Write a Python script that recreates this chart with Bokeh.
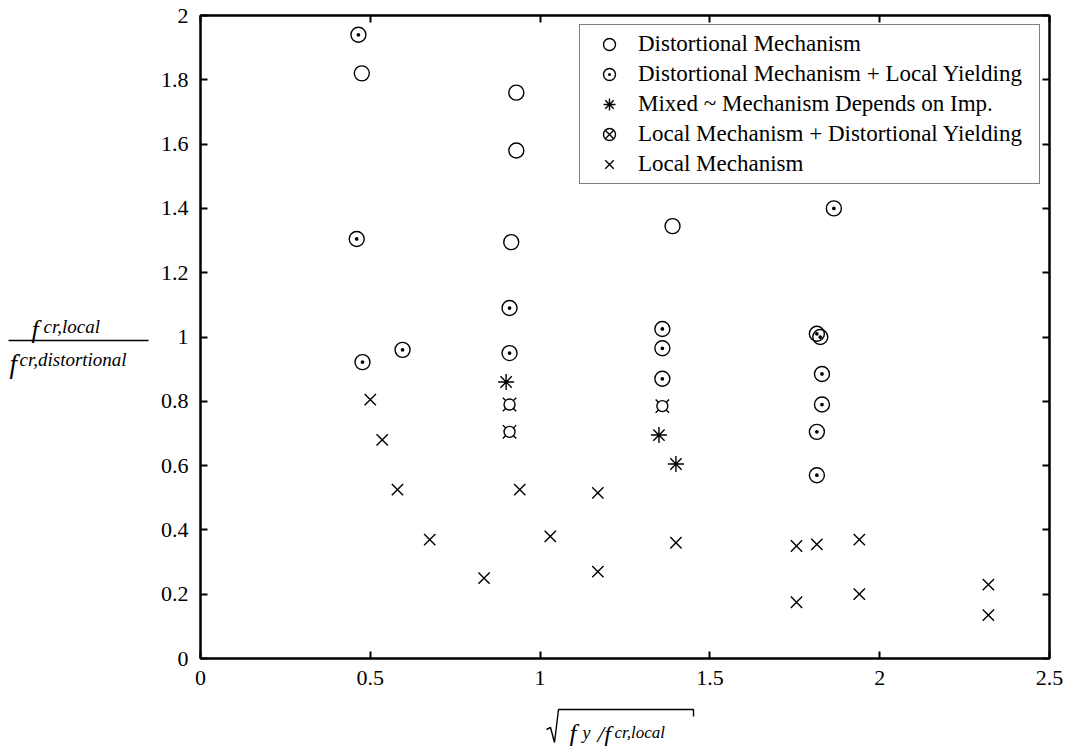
from bokeh.plotting import figure
from bokeh.models import FixedTicker, LinearAxis, Range1d, Legend
from bokeh.core.properties import value
from bokeh.layouts import row, column
from bokeh.embed import file_html
from bokeh.resources import INLINE

# ---------------- data ----------------
dist_x = [0.475, 0.93, 0.93, 0.915, 1.39]
dist_y = [1.82, 1.76, 1.58, 1.295, 1.345]

dly_x = [0.465, 0.46, 0.477, 0.595, 0.91, 0.91, 1.36, 1.36, 1.36, 1.865, 1.815, 1.825, 1.83, 1.83, 1.815, 1.815]
dly_y = [1.94, 1.305, 0.922, 0.96, 1.09, 0.95, 1.025, 0.965, 0.87, 1.40, 1.01, 1.0, 0.885, 0.79, 0.705, 0.57]

mixed_x = [0.90, 1.35, 1.40]
mixed_y = [0.86, 0.695, 0.605]

ldy_x = [0.91, 0.91, 1.36]
ldy_y = [0.79, 0.705, 0.785]

loc_x = [0.50, 0.535, 0.58, 0.675, 0.835, 0.94, 1.03, 1.17, 1.17, 1.40,
         1.755, 1.755, 1.815, 1.94, 1.94, 2.32, 2.32]
loc_y = [0.805, 0.68, 0.525, 0.37, 0.25, 0.525, 0.38, 0.515, 0.27, 0.36,
         0.35, 0.175, 0.355, 0.37, 0.20, 0.23, 0.135]

series_names = ["Distortional Mechanism",
                "Distortional Mechanism + Local Yielding",
                "Mixed ~ Mechanism Depends on Imp.",
                "Local Mechanism + Distortional Yielding",
                "Local Mechanism"]

x_ticks = [0, 0.5, 1, 1.5, 2, 2.5]
x_tick_labels = ["0", "0.5", "1", "1.5", "2", "2.5"]
y_ticks = [0, 0.2, 0.4, 0.6, 0.8, 1.0, 1.2, 1.4, 1.6, 1.8, 2.0]
y_tick_labels = ["0", "0.2", "0.4", "0.6", "0.8", "1", "1.2", "1.4", "1.6", "1.8", "2"]

SERIF = "Liberation Serif"
W, H = 1067, 746
YLAB_W = 150          # width of the left panel holding the y-axis label
XLAB_H = 48           # height of the bottom panel holding the x-axis label
MAIN_W, MAIN_H = W - YLAB_W, H - XLAB_H
BL, BR = 50, 18       # main plot left/right borders

p = figure(width=MAIN_W, height=MAIN_H, output_backend="svg", toolbar_location=None,
           x_range=Range1d(0, 2.5), y_range=Range1d(0, 2),
           min_border_left=BL, min_border_right=BR, min_border_top=15, min_border_bottom=40,
           x_axis_location=None, y_axis_location=None)
p.grid.visible = False
p.outline_line_color = "black"
p.outline_line_width = 2
p.background_fill_color = "white"
p.border_fill_color = "white"

def make_axis(ticks, labels, show_labels):
    ax = LinearAxis(ticker=FixedTicker(ticks=ticks))
    if show_labels:
        ax.major_label_overrides = {t: l for t, l in zip(ticks, labels)}
        ax.major_label_standoff = 12
    else:
        ax.major_label_overrides = {t: "" for t in ticks}
        ax.major_label_standoff = 0
    ax.axis_line_color = "black"
    ax.axis_line_width = 2
    ax.major_tick_in = 7
    ax.major_tick_out = 0
    ax.major_tick_line_width = 2
    ax.minor_tick_line_color = None
    ax.major_label_text_font = SERIF
    ax.major_label_text_font_size = "22px"
    ax.major_label_text_color = "black"
    return ax

p.add_layout(make_axis(x_ticks, x_tick_labels, True), "below")
p.add_layout(make_axis(x_ticks, x_tick_labels, False), "above")
p.add_layout(make_axis(y_ticks, y_tick_labels, True), "left")
p.add_layout(make_axis(y_ticks, y_tick_labels, False), "right")

LW = 1.4
r1 = p.scatter(dist_x, dist_y, marker="circle", size=15, fill_color=None,
               line_color="black", line_width=LW)
r2 = p.scatter(dly_x, dly_y, marker="circle_dot", size=15, fill_color=None,
               line_color="black", line_width=LW)
r3 = p.scatter(mixed_x, mixed_y, marker="asterisk", size=16,
               line_color="black", line_width=LW)
r4a = p.scatter(ldy_x, ldy_y, marker="x", size=19, line_color="black", line_width=LW)
r4b = p.scatter(ldy_x, ldy_y, marker="circle", size=11, fill_color="white",
                line_color="black", line_width=LW)
r5 = p.scatter(loc_x, loc_y, marker="x", size=16, line_color="black", line_width=LW)

legend = Legend(items=[(series_names[0], [r1]), (series_names[1], [r2]),
                       (series_names[2], [r3]), (series_names[3], [r4b, r4a]),
                       (series_names[4], [r5])],
                location="top_right")
legend.margin = 9
legend.padding = 4
legend.spacing = 0
legend.glyph_width = 50
legend.glyph_height = 30
legend.label_height = 30
legend.label_width = 397
legend.label_standoff = 4
legend.label_text_font = SERIF
legend.label_text_font_size = "23px"
legend.label_text_color = "black"
legend.border_line_color = "black"
legend.border_line_width = 1.5
legend.background_fill_alpha = 1.0
p.add_layout(legend, "center")

def style_blank(f):
    f.grid.visible = False
    f.outline_line_color = None
    f.background_fill_color = "white"
    f.border_fill_color = "white"
    return f

tf = value(SERIF)
def put(fig, x, y, s, size):
    fig.text(x=[x], y=[y], text=[s], text_font=tf, text_font_size=size,
             text_font_style="italic", text_baseline="alphabetic", text_color="black")

# ---- y-axis label panel (page pixel coordinates, y downward) ----
yl = style_blank(figure(width=YLAB_W, height=H, output_backend="svg", toolbar_location=None,
                        x_range=Range1d(0, YLAB_W), y_range=Range1d(H, 0),
                        min_border=0, min_border_left=0, min_border_right=0,
                        min_border_top=0, min_border_bottom=0,
                        x_axis_location=None, y_axis_location=None))
put(yl, 31, 329, "f", "26px")
put(yl, 43, 326, "cr,local", "19px")
yl.segment(x0=[8], y0=[340], x1=[148], y1=[340], line_color="black", line_width=1.5)
put(yl, 9, 363, "f", "27px")
put(yl, 19, 359, "cr,distortional", "19px")

# ---- x-axis label panel: shares the main x range (its frame aligns with the main frame) ----
xl = style_blank(figure(width=MAIN_W, height=XLAB_H, output_backend="svg", toolbar_location=None,
                        x_range=p.x_range, y_range=Range1d(H, MAIN_H),
                        min_border=0, min_border_left=BL, min_border_right=BR,
                        min_border_top=0, min_border_bottom=0,
                        x_axis_location=None, y_axis_location=None))
FRAME_L, FRAME_R = YLAB_W + BL, W - BR
def px2x(px):
    return (px - FRAME_L) / (FRAME_R - FRAME_L) * 2.5

xl.line(x=[px2x(v) for v in (546, 550, 554, 558, 693, 693)], y=[729, 727, 742, 709, 709, 716],
        line_color="black", line_width=1.4)
put(xl, px2x(569), 733, "f", "25px")
put(xl, px2x(582), 732, "y", "18px")
put(xl, px2x(597), 733, "/f", "24px")
put(xl, px2x(614), 732, "cr,local", "17px")

layout = row(yl, column(p, xl))
open("out.html", "w").write(file_html(layout, INLINE))
